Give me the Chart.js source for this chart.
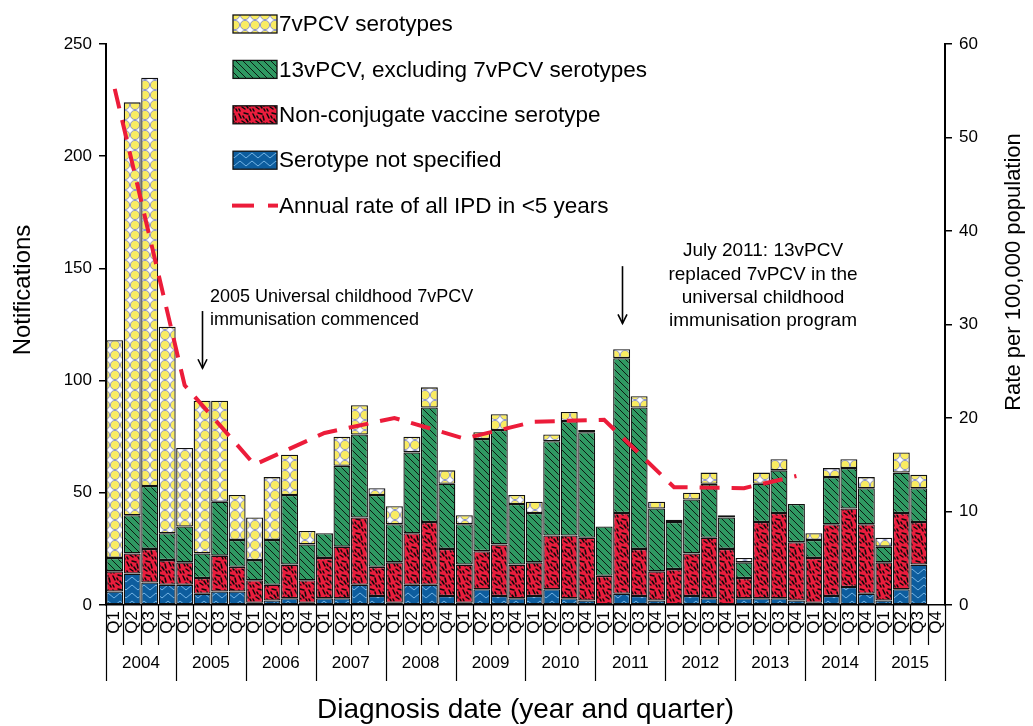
<!DOCTYPE html>
<html>
<head>
<meta charset="utf-8">
<script src="https://cdn.jsdelivr.net/npm/chart.js@4.4.0/dist/chart.umd.min.js"></script>
<style>
html,body{margin:0;padding:0;background:#fff;}
#wrap{width:1033px;height:726px;}
</style>
</head>
<body>
<div id="wrap"><canvas id="chart" width="1033" height="726"></canvas></div>
<script>
// IPD notifications in children <5 years by serotype group, quarterly 2004-2015
const years = ['2004','2005','2006','2007','2008','2009','2010','2011','2012','2013','2014','2015'];
const quarters = ['Q1','Q2','Q3','Q4'];
const quarterLabels = years.flatMap(() => quarters);

// stacked bars, bottom to top (null = no cases in that group)
const notSpecified = [6,14,10,9, 9,5,6,6, 1,2,3,1, 3,3,9,4, 1,9,9,4, 1,7,4,3, 4,7,3,2, null,5,4,2, null,4,3,null, 3,3,3,2, 1,4,8,5, 2,7,18,null];
const nonConjugate = [9,9,15,11, 10,7,16,11, 10,7,15,10, 18,23,30,13, 18,23,28,21, 17,17,23,15, 15,24,28,28, 13,36,21,13, 16,19,27,25, 9,34,38,26, 20,32,35,31, 17,34,19,null];
const pcv13Only = [6,17,28,12, 16,11,24,12, 9,20,31,16, 11,36,37,32, 17,36,51,29, 18,50,51,27, 22,42,51,47, 22,69,63,28, 21,24,24,14, 7,17,19,17, 8,21,18,16, 7,18,15,null];
const pcv7 = [97,184,182,92, 35,68,45,20, 19,28,18,6, null,13,13,3, 8,7,9,6, 4,3,7,4, 5,3,4,1, null,4,5,3, 1,3,5,1, 2,5,5,null, 3,4,4,5, 4,9,6,null];

// annual rate (right axis), values read at the line's corners
const annualRate = [55.2,null,null,null, 23.5,null,null,null, 15.0,null,null,null, 18.4,null,null,null,
  20.0,null,null,null, 17.8,null,null,null, 19.6,null,null,null, 19.8,null,null,null,
  12.6,null,null,null, 12.5,null,null,13.8, null,null,null,null, null,null,null,null];

const FONT = 'Arial, "Liberation Sans", sans-serif';
const RED_LINE = '#ec1c3a';

function makePattern(w, h, draw){
  const c = document.createElement('canvas');
  c.width = w; c.height = h;
  const g = c.getContext('2d');
  draw(g, w, h);
  return g.createPattern(c, 'repeat');
}

const yellowPat = makePattern(10, 10, (g, w, h) => {
  g.fillStyle = '#fff'; g.fillRect(0, 0, w, h);
  g.beginPath(); g.arc(5, 5, 4.6, 0, Math.PI*2);
  g.fillStyle = '#f9ec62'; g.fill();
  g.strokeStyle = '#8f96c8'; g.lineWidth = 1; g.stroke();
});
const greenPat = makePattern(7, 7, (g, w, h) => {
  g.fillStyle = '#2f9962'; g.fillRect(0, 0, w, h);
  g.strokeStyle = '#0a0a0a'; g.lineWidth = 0.9;
  [[0,0,7,7],[-7,0,0,7],[0,-7,7,0]].forEach(s => {
    g.beginPath(); g.moveTo(s[0], s[1]); g.lineTo(s[2], s[3]); g.stroke();
  });
});
const redPat = makePattern(14, 14, (g, w, h) => {
  g.fillStyle = '#ea1d3d'; g.fillRect(0, 0, w, h);
  g.strokeStyle = '#0a0a0a'; g.lineWidth = 1.5; g.lineCap = 'round';
  [[1,2,3,6],[6,1,10,2],[11,4,12,8],[4,9,7,11],[8,7,10,10],[1,11,2,13],[12,11,13,13],[5,4,6,6]].forEach(s => {
    g.beginPath(); g.moveTo(s[0], s[1]); g.lineTo(s[2], s[3]); g.stroke();
  });
});
const bluePat = makePattern(12, 8, (g, w, h) => {
  g.fillStyle = '#0d5d9e'; g.fillRect(0, 0, w, h);
  g.strokeStyle = '#74b4e4'; g.lineWidth = 1;
  g.beginPath(); g.moveTo(0, 1); g.lineTo(6, 6); g.lineTo(12, 1); g.stroke();
});

const legendItems = [
  {text:'7vPCV serotypes', fill: yellowPat},
  {text:'13vPCV, excluding 7vPCV serotypes', fill: greenPat},
  {text:'Non-conjugate vaccine serotype', fill: redPat},
  {text:'Serotype not specified', fill: bluePat},
  {text:'Annual rate of all IPD in <5 years', line: true}
];

const decor = {
  id: 'decor',
  afterDraw(chart){
    const {ctx, chartArea: a, scales: {x, x2, y}} = chart;
    ctx.save();

    // category separators below the axis (quarters short, years long)
    const half = (x.getPixelForValue(1) - x.getPixelForValue(0)) / 2;
    ctx.strokeStyle = '#000'; ctx.lineWidth = 1.2;
    for (let i = 0; i <= quarterLabels.length; i++){
      const px = i < quarterLabels.length ? x.getPixelForValue(i) - half : x.getPixelForValue(i-1) + half;
      const bottom = i % 4 === 0 ? x2.top + 36 : x.bottom;
      ctx.beginPath();
      ctx.moveTo(Math.round(px) + 0.5, a.bottom);
      ctx.lineTo(Math.round(px) + 0.5, bottom);
      ctx.stroke();
    }

    // arrows
    function arrow(idx, from, to){
      const px = Math.round(x.getPixelForValue(idx)) + 0.5;
      const y1 = y.getPixelForValue(from), y2 = y.getPixelForValue(to);
      ctx.strokeStyle = '#000'; ctx.lineWidth = 1.6;
      ctx.beginPath(); ctx.moveTo(px, y1); ctx.lineTo(px, y2); ctx.stroke();
      ctx.beginPath(); ctx.moveTo(px - 4.5, y2 - 9); ctx.lineTo(px, y2); ctx.lineTo(px + 4.5, y2 - 9); ctx.stroke();
    }
    arrow(5, 131, 105.5);
    arrow(29, 151, 125.5);

    // annotations
    ctx.fillStyle = '#000';
    ctx.font = '18px ' + FONT;
    ctx.textBaseline = 'middle';
    ctx.textAlign = 'left';
    ctx.fillText('2005 Universal childhood 7vPCV', 210, 297);
    ctx.fillText('immunisation commenced', 210, 320);
    ctx.font = '19px ' + FONT;
    ctx.textAlign = 'center';
    ['July 2011: 13vPCV', 'replaced 7vPCV in the', 'universal childhood', 'immunisation program']
      .forEach((t, i) => ctx.fillText(t, 763, 251 + i * 23.3));

    // legend
    ctx.textAlign = 'left';
    ctx.font = '22.5px ' + FONT;
    legendItems.forEach((it, i) => {
      const cy = 24 + i * 45.4;
      if (it.line){
        ctx.strokeStyle = RED_LINE; ctx.lineWidth = 4;
        ctx.beginPath(); ctx.moveTo(232, cy); ctx.lineTo(254, cy); ctx.stroke();
        ctx.beginPath(); ctx.moveTo(268, cy); ctx.lineTo(278, cy); ctx.stroke();
      } else {
        ctx.fillStyle = it.fill;
        ctx.fillRect(233, cy - 9, 44, 18);
        ctx.strokeStyle = '#111'; ctx.lineWidth = 1.3;
        ctx.strokeRect(233, cy - 9, 44, 18);
      }
      ctx.fillStyle = '#000';
      ctx.fillText(it.text, 279, cy + 1);
    });

    // y-axis titles (both read bottom to top)
    ctx.textAlign = 'center';
    ctx.font = '24px ' + FONT;
    ctx.save();
    ctx.translate(23, 290); ctx.rotate(-Math.PI/2);
    ctx.fillText('Notifications', 0, 0);
    ctx.restore();
    ctx.font = '22px ' + FONT;
    ctx.save();
    ctx.translate(1014, 272); ctx.rotate(-Math.PI/2);
    ctx.fillText('Rate per 100,000 population', 0, 0);
    ctx.restore();

    ctx.restore();
  }
};

Chart.defaults.font.family = FONT;
Chart.defaults.color = '#000';

const barBase = {type:'bar', borderColor:'#111', borderWidth:1.3, borderSkipped:false,
  categoryPercentage:1, barPercentage:0.97, yAxisID:'y', stack:'ipd'};

new Chart(document.getElementById('chart'), {
  type: 'bar',
  data: {
    labels: quarterLabels,
    datasets: [
      {type:'line', label:'Annual rate of all IPD in <5 years', data: annualRate, yAxisID:'y1',
       borderColor: RED_LINE, borderWidth: 4, borderDash:[20,12], borderCapStyle:'butt',
       pointRadius: 0, spanGaps: true, tension: 0, fill: false, order: -1},
      {...barBase, label:'Serotype not specified', data: notSpecified, backgroundColor: bluePat},
      {...barBase, label:'Non-conjugate vaccine serotype', data: nonConjugate, backgroundColor: redPat},
      {...barBase, label:'13vPCV, excluding 7vPCV serotypes', data: pcv13Only, backgroundColor: greenPat},
      {...barBase, label:'7vPCV serotypes', data: pcv7, backgroundColor: yellowPat}
    ]
  },
  options: {
    responsive: false,
    animation: false,
    layout: {padding: {top: 44, left: 0, right: 0, bottom: 0}},
    plugins: {legend: {display: false}, tooltip: {enabled: false}},
    scales: {
      x: {
        stacked: true, offset: true,
        grid: {display: false, drawTicks: false},
        border: {display: true, color: '#000', width: 1.5},
        ticks: {minRotation: 90, maxRotation: 90, autoSkip: false, padding: 6, font: {size: 17}},
        afterFit: s => { s.height = 40; }
      },
      x2: {
        type: 'category', labels: years, position: 'bottom', offset: true,
        grid: {display: false, drawTicks: false}, border: {display: false},
        ticks: {maxRotation: 0, autoSkip: false, padding: 8, font: {size: 17}},
        title: {display: true, text: 'Diagnosis date (year and quarter)', font: {size: 28}, padding: {top: 0, bottom: -1}},
        afterFit: s => { s.height = 81; }
      },
      y: {
        stacked: true, min: 0, max: 250,
        ticks: {stepSize: 50, padding: 7, font: {size: 17}},
        grid: {drawOnChartArea: false, tickLength: 7, color: '#000', lineWidth: 1.5},
        border: {color: '#000', width: 2},
        afterFit: s => { s.width = 106; }
      },
      y1: {
        position: 'right', min: 0, max: 60,
        ticks: {stepSize: 10, padding: 7, font: {size: 17}},
        grid: {drawOnChartArea: false, tickLength: 7, color: '#000', lineWidth: 1.5},
        border: {color: '#000', width: 2},
        afterFit: s => { s.width = 88; }
      }
    }
  },
  plugins: [decor]
});
</script>
</body>
</html>
